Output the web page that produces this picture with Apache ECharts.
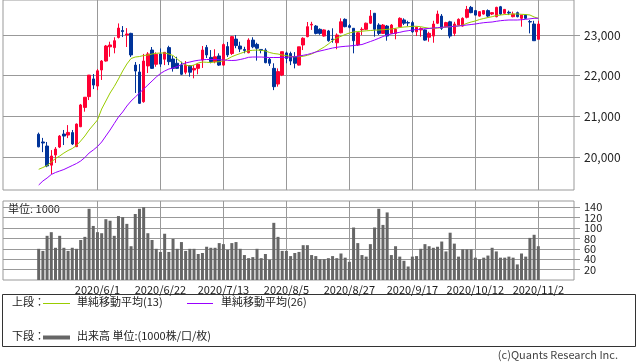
<!DOCTYPE html>
<html><head><meta charset="utf-8">
<script src="https://cdn.jsdelivr.net/npm/echarts@6/dist/echarts.min.js"></script>
<style>html,body{margin:0;padding:0;background:#fff}#c{width:638px;height:362px}</style>
</head><body><div id="c"></div>
<script>
const dates = [
'2020/5/12','2020/5/13','2020/5/14','2020/5/15','2020/5/18','2020/5/19','2020/5/20','2020/5/21','2020/5/22','2020/5/25','2020/5/26','2020/5/27','2020/5/28','2020/5/29',
'2020/6/1','2020/6/2','2020/6/3','2020/6/4','2020/6/5','2020/6/8','2020/6/9','2020/6/10','2020/6/11','2020/6/12','2020/6/15','2020/6/16','2020/6/17','2020/6/18','2020/6/19',
'2020/6/22','2020/6/23','2020/6/24','2020/6/25','2020/6/26','2020/6/29','2020/6/30','2020/7/1','2020/7/2','2020/7/3','2020/7/6','2020/7/7','2020/7/8','2020/7/9','2020/7/10',
'2020/7/13','2020/7/14','2020/7/15','2020/7/16','2020/7/17','2020/7/20','2020/7/21','2020/7/22','2020/7/27','2020/7/28','2020/7/29','2020/7/30','2020/7/31','2020/8/3','2020/8/4',
'2020/8/5','2020/8/6','2020/8/7','2020/8/11','2020/8/12','2020/8/13','2020/8/14','2020/8/17','2020/8/18','2020/8/19','2020/8/20','2020/8/21','2020/8/24','2020/8/25','2020/8/26',
'2020/8/27','2020/8/28','2020/8/31','2020/9/1','2020/9/2','2020/9/3','2020/9/4','2020/9/7','2020/9/8','2020/9/9','2020/9/10','2020/9/11','2020/9/14','2020/9/15','2020/9/16',
'2020/9/17','2020/9/18','2020/9/23','2020/9/24','2020/9/25','2020/9/28','2020/9/29','2020/9/30','2020/10/1','2020/10/2','2020/10/5','2020/10/6','2020/10/7','2020/10/8','2020/10/9',
'2020/10/12','2020/10/13','2020/10/14','2020/10/15','2020/10/16','2020/10/19','2020/10/20','2020/10/21','2020/10/22','2020/10/23','2020/10/26','2020/10/27','2020/10/28','2020/10/29','2020/10/30',
'2020/11/2'];

const tickLabels = ['2020/6/1','2020/6/22','2020/7/13','2020/8/5','2020/8/27','2020/9/17','2020/10/12','2020/11/2'];
const priceTicks = [20000, 21000, 22000, 23000];
const volumeTicksA = [20, 60, 100, 140];
const volumeTicksB = [40, 80, 120];

const opens = [20560,20370,20270,19800,20050,20245,20565,20540,20600,20255,
20745,21220,21485,21920,21745,22140,22360,22710,22690,22940,
23110,23000,23040,22260,22090,21360,22240,22630,22280,22535,
22405,22690,22410,22305,22260,22085,22245,22140,22180,22385,
22695,22450,22345,22485,22260,22715,22545,22900,22730,22645,
22565,22875,22770,22645,22630,22405,22180,21795,22015,22560,
22545,22465,22260,22755,22960,23245,23220,23140,22975,23100,
22900,22810,23055,23385,23230,23165,22755,23130,23140,23290,
23535,23245,23040,23220,23040,23040,23205,23370,23305,23305,
23080,23125,23125,22945,22975,23290,23465,23205,23325,23040,
23245,23220,23435,23680,23600,23465,23515,23600,23515,23450,
23695,23535,23560,23450,23550,23410,23490,23330,23270,22895];
const highs = [20600,20470,20370,20170,20245,20540,20665,20785,20665,20825,
21305,21475,22015,22040,22165,22385,22755,22835,22945,23285,
23220,23170,23055,22335,22285,22535,22580,22705,22575,22670,
22580,22735,22485,22465,22345,22360,22260,22260,22305,22730,
22755,22630,22650,22550,22795,22830,22975,23000,22835,22710,
22920,22945,22810,22655,22675,22435,22305,22180,22590,22590,
22590,22580,22710,22945,23320,23325,23245,23165,23140,23125,
23165,23040,23410,23410,23270,23165,23080,23190,23305,23615,
23540,23290,23270,23245,23270,23165,23435,23410,23350,23350,
23205,23190,23140,23080,23350,23600,23515,23325,23350,23325,
23410,23435,23715,23715,23615,23590,23615,23630,23565,23695,
23715,23640,23600,23575,23575,23490,23505,23370,23350,23350];
const lows = [20240,20120,19750,19580,19855,20220,20295,20465,20295,20245,
20735,21115,21400,21670,21645,21895,22345,22465,22550,22915,
22950,22705,22460,21575,21305,21335,22065,22165,22220,22215,
22260,22260,22100,22165,22015,22035,21975,21935,22035,22190,
22435,22305,22305,22240,22240,22460,22510,22675,22580,22550,
22550,22675,22370,22550,22305,22240,21645,21730,21990,22305,
22260,22180,22250,22630,22945,23125,23015,23005,22960,22835,
22810,22650,23040,23190,23165,22550,22730,23000,23125,23270,
22960,23000,23025,22860,23025,22895,23190,23245,23220,23055,
22975,22960,22860,22835,22810,23270,23125,23190,22920,22975,
23235,23205,23410,23535,23480,23450,23500,23435,23490,23435,
23490,23515,23490,23435,23435,23205,23395,23040,22860,22895];
const closes = [20250,20345,19780,20025,20195,20515,20515,20605,20320,20810,
21280,21470,22015,21770,22120,22360,22730,22755,22860,23170,
23085,23025,22510,22115,21320,22360,22535,22180,22525,22285,
22575,22345,22180,22180,22035,22260,22085,22180,22280,22630,
22510,22345,22465,22260,22765,22510,22960,22740,22655,22620,
22875,22710,22675,22620,22320,22305,21730,22100,22590,22425,
22360,22305,22710,22920,23205,23265,23040,23040,23125,22860,
22885,23000,23325,23205,23190,22860,23055,23140,23290,23465,
23140,23040,23245,22975,23245,23140,23410,23290,23295,23080,
23190,23160,22875,23040,23270,23515,23165,23305,22975,23270,
23385,23410,23630,23550,23490,23575,23600,23465,23550,23680,
23515,23630,23540,23515,23450,23490,23410,23320,22860,23270];
const sma13 = [19698,19742,19791,19877,19963,20025,20098,20160,20209,20283,
20394,20517,20664,20787,20910,21180,21377,21574,21734,21918,
22115,22287,22422,22459,22471,22496,22508,22533,22550,22558,
22558,22533,22496,22410,22324,22262,22238,22262,22312,22336,
22329,22324,22336,22344,22368,22410,22467,22508,22545,22582,
22614,22624,22631,22624,22607,22570,22545,22533,22508,22496,
22471,22466,22466,22476,22501,22533,22582,22644,22705,22779,
22865,22926,22968,23012,23049,23074,23086,23093,23103,23111,
23118,23123,23130,23140,23148,23165,23184,23197,23204,23214,
23214,23204,23184,23165,23165,23172,23184,23197,23204,23214,
23222,23246,23288,23320,23345,23381,23406,23430,23450,23479,
23492,23504,23509,23517,23517,23509,23504,23492,23443,23411];
const sma26 = [19312,19410,19484,19570,19619,19656,19693,19742,19791,19840,
19902,19988,20098,20172,20258,20369,20517,20664,20824,20984,
21107,21254,21377,21475,21574,21672,21770,21869,21967,22053,
22115,22164,22189,22225,22275,22312,22336,22361,22378,22390,
22398,22398,22398,22393,22385,22378,22373,22378,22398,22422,
22452,22459,22459,22459,22452,22447,22447,22447,22452,22452,
22459,22466,22484,22501,22521,22550,22582,22607,22631,22656,
22680,22698,22712,22722,22730,22742,22754,22766,22803,22840,
22877,22919,22963,23000,23025,23049,23066,23091,23106,23123,
23135,23143,23153,23162,23172,23180,23189,23197,23204,23214,
23222,23234,23246,23258,23271,23288,23303,23312,23320,23337,
23352,23362,23369,23369,23369,23376,23386,23398,23411,23411];
const volumes = [60,56,85,92,62,85,62,56,62,60,
77,83,137,104,92,90,117,114,85,123,
121,108,65,127,137,140,90,77,60,54,
89,54,79,60,73,56,60,60,50,52,
64,62,62,71,69,58,71,73,60,48,
42,44,60,42,50,39,110,83,56,56,
46,52,54,67,67,48,46,40,40,42,
46,42,51,43,35,101,71,48,45,69,
101,137,106,130,48,65,45,37,26,45,
46,60,69,65,62,64,74,55,91,70,
45,59,59,59,43,40,43,47,62,55,
43,43,45,43,30,51,45,81,87,65];

// layout: empty slots on each side of the data
const PAD_L = 8, PAD_R = 8;
const padL = Array.from({length: PAD_L}, (_, i) => 'L' + i);
const padR = Array.from({length: PAD_R}, (_, i) => 'R' + i);
const cats = padL.concat(dates, padR);
const blanks = (n) => Array.from({length: n}, () => '-');
const pad = (arr) => blanks(PAD_L).concat(arr, blanks(PAD_R));
const candle = pad(dates.map((d, i) => [opens[i], closes[i], lows[i], highs[i]]));

const isTick = (idx, val) => tickLabels.indexOf(val) >= 0;
const GRID = '#999999';
const numFont = 'Noto Sans CJK JP';
const fmt = v => String(v).replace(/\B(?=(\d{3})+(?!\d))/g, ',');

const volAxis = (ticks) => ({
  type: 'value', gridIndex: 1, position: 'right', min: 0, max: 152, offset: 0,
  axisLine: {show: false},
  axisTick: {show: true, length: 6, lineStyle: {color: GRID}, customValues: ticks},
  axisLabel: {show: true, margin: 10, color: '#222', fontFamily: numFont, fontSize: 11,
              showMinLabel: true, showMaxLabel: true, customValues: ticks},
  splitLine: {show: true, lineStyle: {color: GRID, width: 1}}
});

const chart = echarts.init(document.getElementById('c'), null, {renderer: 'canvas'});
chart.setOption({
  animation: false,
  backgroundColor: '#ffffff',
  grid: [
    {left: 3, top: 0, width: 571, height: 190, show: true, borderColor: GRID, borderWidth: 1},
    {left: 3, top: 201, width: 571, height: 79, show: true, borderColor: GRID, borderWidth: 1}
  ],
  xAxis: [
    {type: 'category', gridIndex: 0, data: cats, boundaryGap: true,
     axisLine: {show: false}, axisTick: {show: false}, axisLabel: {show: false},
     splitLine: {show: true, interval: isTick, alignWithLabel: true, lineStyle: {color: GRID, width: 1}}},
    {type: 'category', gridIndex: 1, data: cats, boundaryGap: true,
     axisLine: {show: false}, axisTick: {show: false},
     axisLabel: {show: true, interval: isTick, margin: 4, color: '#222', fontFamily: numFont, fontSize: 11},
     splitLine: {show: true, interval: isTick, alignWithLabel: true, lineStyle: {color: GRID, width: 1}}}
  ],
  yAxis: [
    {type: 'value', gridIndex: 0, position: 'right', min: 19189, max: 23861, splitNumber: 5, scale: true,
     axisLine: {show: false},
     axisTick: {show: true, length: 6, lineStyle: {color: GRID}, customValues: priceTicks},
     axisLabel: {show: true, margin: 10, color: '#222', fontFamily: numFont, fontSize: 12,
                 formatter: fmt, customValues: priceTicks},
     splitLine: {show: true, lineStyle: {color: GRID, width: 1}}},
    volAxis(volumeTicksA),
    volAxis(volumeTicksB)
  ],
  series: [
    {type: 'candlestick', xAxisIndex: 0, yAxisIndex: 0, data: candle, barWidth: 3,
     itemStyle: {color: '#ff0033', color0: '#003399', borderColor: '#ff0033', borderColor0: '#003399', borderWidth: 1}},
    {type: 'line', xAxisIndex: 0, yAxisIndex: 0, data: pad(sma13), showSymbol: false, symbol: 'none',
     lineStyle: {color: '#99cc00', width: 1}, z: 3},
    {type: 'line', xAxisIndex: 0, yAxisIndex: 0, data: pad(sma26), showSymbol: false, symbol: 'none',
     lineStyle: {color: '#9900ff', width: 1}, z: 3},
    {type: 'bar', xAxisIndex: 1, yAxisIndex: 1, data: pad(volumes), barWidth: 3,
     itemStyle: {color: '#666666'}}
  ],
  graphic: [
    {type: 'text', left: 8, top: 203, style: {text: '単位: 1000', font: '11px "Noto Sans CJK JP"', fill: '#222'}},
    {type: 'rect', shape: {x: 2.5, y: 294.5, width: 633, height: 52}, style: {fill: 'none', stroke: '#333', lineWidth: 1}},
    {type: 'text', left: 12, top: 296, style: {text: '上段：', font: '11px "Noto Sans CJK JP"', fill: '#222'}},
    {type: 'line', shape: {x1: 43, y1: 303.5, x2: 70, y2: 303.5}, style: {stroke: '#99cc00', lineWidth: 1}},
    {type: 'text', left: 77, top: 296, style: {text: '単純移動平均(13)', font: '11px "Noto Sans CJK JP"', fill: '#222'}},
    {type: 'line', shape: {x1: 187, y1: 303.5, x2: 213, y2: 303.5}, style: {stroke: '#9900ff', lineWidth: 1}},
    {type: 'text', left: 221, top: 296, style: {text: '単純移動平均(26)', font: '11px "Noto Sans CJK JP"', fill: '#222'}},
    {type: 'text', left: 12, top: 330, style: {text: '下段：', font: '11px "Noto Sans CJK JP"', fill: '#222'}},
    {type: 'line', shape: {x1: 43, y1: 337.5, x2: 70, y2: 337.5}, style: {stroke: '#666666', lineWidth: 4}},
    {type: 'text', left: 77, top: 330, style: {text: '出来高 単位:(1000株/口/枚)', font: '11px "Noto Sans CJK JP"', fill: '#222'}},
    {type: 'text', right: 20, top: 349, style: {text: '(c)Quants Research Inc.', font: '11px "Noto Sans CJK JP"', fill: '#444'}}
  ]
});
</script></body></html>
